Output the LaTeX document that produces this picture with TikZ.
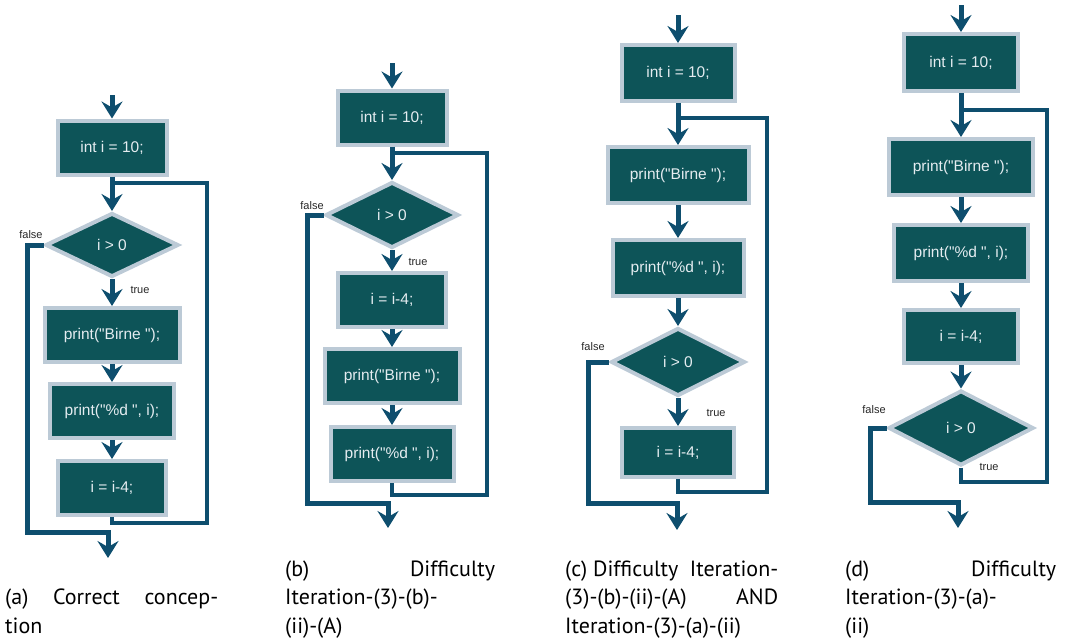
\documentclass[tikz,border=0pt]{standalone}
\usepackage{fontspec}
\setmainfont{PT Sans}
\newfontfamily\codefont{Liberation Sans}
\usetikzlibrary{shapes.geometric,arrows.meta,calc}

\definecolor{boxfill}{HTML}{0D5458}
\definecolor{boxedge}{HTML}{BCCAD6}
\definecolor{boxtext}{HTML}{E4ECF0}
\definecolor{flowline}{HTML}{0E4E6E}

\tikzset{
  stmt/.style={rectangle, draw=boxedge, line width=4pt, fill=boxfill, text=boxtext,
    font=\codefont\fontsize{15.5}{18}\selectfont, minimum height=54pt, inner sep=0pt},
  cond/.style={diamond, draw=boxedge, line width=4pt, fill=boxfill, text=boxtext,
    font=\codefont\fontsize{15.5}{18}\selectfont, inner sep=0pt},
  flow/.style={draw=flowline, line width=5pt, -{Stealth[length=17pt,width=21pt,inset=6pt]}},
  back/.style={draw=flowline, line width=4.6pt},
  branch/.style={font=\codefont\fontsize{11}{13}\selectfont, text=black!85, inner sep=0pt},
  caption/.style={anchor=base west, align=left, inner sep=0pt, font=\fontsize{22}{28.5}\selectfont},
}

\begin{document}
\begin{tikzpicture}[x=1pt,y=-1pt]
\useasboundingbox (0,0) rectangle (1068,643);

%% (a) correct conception
\node[stmt, minimum width=109pt] (a0) at (112,147.5) {int i = 10;};
\node[cond, minimum width=133pt, minimum height=64pt] (a1) at (112,245) {i > 0};
\node[stmt, minimum width=135pt] (a2) at (112,335) {print("Birne ");};
\node[stmt, minimum width=124pt] (a3) at (112,411) {print("\%d ", i);};
\node[stmt, minimum width=108pt] (a4) at (112,488) {i = i-4;};
\coordinate (a-in) at (112,95);
\coordinate (a-r) at (207,183);
\coordinate (a-b) at (112,523);
\coordinate (a-f) at (27,532);
\coordinate (a-out) at (108,558);
\draw[flow] (a-in) -- (a0);
\draw[flow] (a0) -- (a1);
\draw[flow] (a1) -- (a2);
\draw[flow] (a2) -- (a3);
\draw[flow] (a3) -- (a4);
\draw[back] (a4.south) -- (a-b) -| (a-r) -- (a-r -| a0);
\draw[flow] (a1.west) -| (a-f) -| (a-out);
\node[branch] (a-false) at (31,235) {false};
\node[branch] (a-true) at (140,290) {true};
\node[caption] (a-cap) at (5,633) {\hbox to 213pt{(a)\hfill Correct\hfill concep-}\\tion};

%% (b) decrement first
\node[stmt, minimum width=109pt] (b0) at (392,117.5) {int i = 10;};
\node[cond, minimum width=133pt, minimum height=66pt] (b1) at (392,215) {i > 0};
\node[stmt, minimum width=108pt] (b2) at (392,300) {i = i-4;};
\node[stmt, minimum width=135pt] (b3) at (392,376) {print("Birne ");};
\node[stmt, minimum width=123pt] (b4) at (392,454) {print("\%d ", i);};
\coordinate (b-in) at (392,63);
\coordinate (b-r) at (487,153);
\coordinate (b-b) at (392,495);
\coordinate (b-f) at (307,503);
\coordinate (b-out) at (388,528);
\draw[flow] (b-in) -- (b0);
\draw[flow] (b0) -- (b1);
\draw[flow] (b1) -- (b2);
\draw[flow] (b2) -- (b3);
\draw[flow] (b3) -- (b4);
\draw[back] (b4.south) -- (b-b) -| (b-r) -- (b-r -| b0);
\draw[flow] (b1.west) -| (b-f) -| (b-out);
\node[branch] (b-false) at (312,206) {false};
\node[branch] (b-true) at (418,262) {true};
\node[caption] (b-cap) at (285,633) {\hbox to 210pt{(b)\hfill Difficulty}\\Iteration-(3)-(b)-\\(ii)-(A)};

%% (c) condition in the middle
\node[stmt, minimum width=113pt, minimum height=56pt] (c0) at (678,73) {int i = 10;};
\node[stmt, minimum width=141pt, minimum height=56pt] (c1) at (678,175) {print("Birne ");};
\node[stmt, minimum width=131pt, minimum height=56pt] (c2) at (678,268) {print("\%d ", i);};
\node[cond, minimum width=134pt, minimum height=68pt] (c3) at (678,362) {i > 0};
\node[stmt, minimum width=112pt, minimum height=49pt] (c4) at (678,452.5) {i = i-4;};
\coordinate (c-in) at (678,15);
\coordinate (c-r) at (767,118);
\coordinate (c-b) at (678,492);
\coordinate (c-f) at (588,503);
\coordinate (c-out) at (677,530);
\draw[flow] (c-in) -- (c0);
\draw[flow] (c0) -- (c1);
\draw[flow] (c1) -- (c2);
\draw[flow] (c2) -- (c3);
\draw[flow] (c3) -- (c4);
\draw[back] (c4.south) -- (c-b) -| (c-r) -- (c-r -| c0);
\draw[flow] (c3.west) -| (c-f) -| (c-out);
\node[branch] (c-false) at (593,347) {false};
\node[branch] (c-true) at (716,413) {true};
\node[caption] (c-cap) at (565,633) {\hbox to 213pt{(c) Difficulty\hfill Iteration-}\\\hbox to 213pt{(3)-(b)-(ii)-(A)\hfill AND}\\Iteration-(3)-(a)-(ii)};

%% (d) condition at the end
\node[stmt, minimum width=114pt, minimum height=57pt] (d0) at (961,62.5) {int i = 10;};
\node[stmt, minimum width=144pt, minimum height=56pt] (d1) at (961,167) {print("Birne ");};
\node[stmt, minimum width=134pt, minimum height=56pt] (d2) at (961,253) {print("\%d ", i);};
\node[stmt, minimum width=114pt, minimum height=53pt] (d3) at (961,336.5) {i = i-4;};
\node[cond, minimum width=145pt, minimum height=75pt] (d4) at (961,428) {i > 0};
\coordinate (d-in) at (961,5);
\coordinate (d-r) at (1047,110);
\coordinate (d-b) at (961,482);
\coordinate (d-f) at (870,502);
\coordinate (d-out) at (958,528);
\draw[flow] (d-in) -- (d0);
\draw[flow] (d0) -- (d1);
\draw[flow] (d1) -- (d2);
\draw[flow] (d2) -- (d3);
\draw[flow] (d3) -- (d4);
\draw[back] (d4.south) -- (d-b) -| (d-r) -- (d-r -| d0);
\draw[flow] (d4.west) -| (d-f) -| (d-out);
\node[branch] (d-false) at (874,410) {false};
\node[branch] (d-true) at (989,467) {true};
\node[caption] (d-cap) at (845,633) {\hbox to 211pt{(d)\hfill Difficulty}\\Iteration-(3)-(a)-\\(ii)};

\end{tikzpicture}
\end{document}
